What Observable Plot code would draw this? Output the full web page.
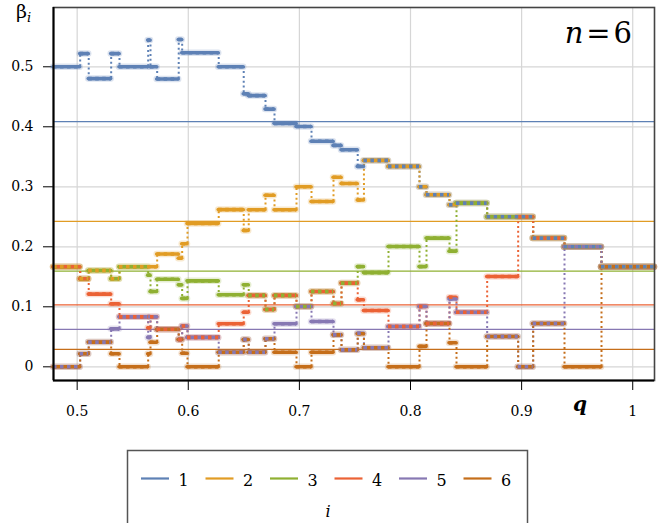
<!DOCTYPE html>
<html><head><meta charset="utf-8">
<script src="https://cdn.jsdelivr.net/npm/d3@7"></script>
<script src="https://cdn.jsdelivr.net/npm/@observablehq/plot@0.6"></script>
<style>
html,body{margin:0;padding:0;background:#fff;}
#wrap{position:relative;width:672px;height:523px;overflow:hidden;background:#fff;}
#wrap svg{position:absolute;left:0;top:0;}
</style></head><body><div id="wrap"></div>
<script>
const seriesNames = ["1","2","3","4","5","6"];
const seriesColors = ["#5E81B5","#E19C24","#8FB032","#EB6235","#8778B3","#C56E1A"];
// interval edges in q
const qBreaks = [0.4787, 0.5027, 0.5104, 0.5306, 0.5381, 0.5639, 0.5660, 0.5720, 0.5914, 0.5945, 0.5993, 0.6274, 0.6499, 0.6544, 0.6695, 0.6776, 0.6974, 0.7109, 0.7307, 0.7379, 0.7525, 0.7581, 0.7802, 0.8081, 0.8144, 0.8351, 0.8414, 0.8690, 0.8969, 0.9104, 0.9386, 0.9719, 1.0196];
const beta1 = [0.5, 0.522, 0.4803, 0.522, 0.5, 0.5445, 0.5, 0.4797, 0.5455, 0.5233, 0.5233, 0.5, 0.455, 0.452, 0.4295, 0.4057, 0.4006, 0.376, 0.369, 0.3617, 0.334, 0.344, 0.334, 0.30, 0.2867, 0.270, 0.2728, 0.25, 0.25, 0.2145, 0.2, 0.1667];
const beta2 = [0.1667, 0.1467, 0.1606, 0.1467, 0.1667, 0.1667, 0.1667, 0.188, 0.181, 0.205, 0.239, 0.262, 0.2272, 0.2617, 0.286, 0.2617, 0.30, 0.2755, 0.316, 0.3055, 0.278, 0.344, 0.334, 0.30, 0.2867, 0.270, 0.2728, 0.25, 0.25, 0.2145, 0.2, 0.1667];
const beta3 = [0.1667, 0.1467, 0.1606, 0.1467, 0.1667, 0.1528, 0.1255, 0.146, 0.1367, 0.114, 0.1433, 0.12, 0.1367, 0.119, 0.0955, 0.119, 0.1005, 0.1255, 0.1055, 0.1395, 0.167, 0.157, 0.2005, 0.167, 0.2145, 0.1928, 0.2728, 0.25, 0.25, 0.2145, 0.2, 0.1667];
const beta4 = [0.1667, 0.1467, 0.1212, 0.105, 0.0833, 0.065, 0.0833, 0.0627, 0.0455, 0.068, 0.049, 0.0717, 0.091, 0.119, 0.0955, 0.119, 0.1005, 0.1255, 0.1055, 0.1395, 0.1117, 0.0938, 0.0672, 0.1005, 0.0722, 0.116, 0.091, 0.1505, 0.25, 0.2145, 0.2, 0.1667];
const beta5 = [0, 0.0217, 0.0412, 0.0633, 0.0833, 0.049, 0.0833, 0.0627, 0.0455, 0.068, 0.049, 0.0244, 0.0455, 0.0244, 0.0467, 0.0717, 0.1005, 0.0755, 0.0533, 0.0283, 0.056, 0.0317, 0.0672, 0.1005, 0.0722, 0.113, 0.091, 0.0505, 0, 0.0722, 0.2, 0.1667];
const beta6 = [0, 0.0217, 0.0412, 0.0217, 0, 0.0217, 0.041, 0.0627, 0.0455, 0.0227, 0, 0.0244, 0.0455, 0.0244, 0.0467, 0.0244, 0, 0.0244, 0.0533, 0.0283, 0.055, 0.0317, 0, 0.034, 0.0722, 0.04, 0, 0.0505, 0, 0.0722, 0, 0.1667];
const weights = [0.4085, 0.2423, 0.1595, 0.1033, 0.0623, 0.029];
const xTicks = [0.5, 0.6, 0.7, 0.8, 0.9, 1];
const yTicks = [0, 0.1, 0.2, 0.3, 0.4, 0.5];

const betas = [beta1, beta2, beta3, beta4, beta5, beta6];
const hseg = [], vseg = [];
betas.forEach((vals, k) => {
  let start = 0;
  for (let i = 1; i <= vals.length; i++) {
    if (i === vals.length || vals[i] !== vals[i - 1]) {
      hseg.push({s: seriesNames[k], x1: qBreaks[start], x2: qBreaks[i], y: vals[i - 1]});
      if (i < vals.length) vseg.push({s: seriesNames[k], x: qBreaks[i], y1: vals[i - 1], y2: vals[i]});
      start = i;
    }
  }
});
const wData = weights.map((w, i) => ({y: w, s: seriesNames[i]}));
const xDomain = [0.4787, 1.0196], yDomain = [-0.0228, 0.5988];
const serif = '"DejaVu Serif", serif';

const chart = Plot.plot({
  width: 672, height: 523,
  marginLeft: 53, marginRight: 18, marginTop: 7, marginBottom: 143,
  style: {fontFamily: serif, fontSize: "14px", background: "transparent", color: "#000"},
  x: {domain: xDomain, ticks: xTicks, tickSize: 10, tickPadding: 16, tickFormat: d => String(d), label: null},
  y: {domain: yDomain, ticks: yTicks, tickSize: 10, tickPadding: 10, tickFormat: d => String(d), label: null},
  color: {domain: seriesNames, range: seriesColors},
  marks: [
    Plot.ruleX(xTicks, {stroke: "#d6d6d6", strokeWidth: 1.2}),
    Plot.ruleY(yTicks, {stroke: "#d6d6d6", strokeWidth: 1.2}),
    Plot.ruleY(wData, {y: "y", stroke: "s", strokeWidth: 1.3}),
    Plot.ruleX(vseg, {x: "x", y1: "y1", y2: "y2", stroke: "s", strokeWidth: 2, strokeDasharray: "2,2.8"}),
    Plot.ruleY(hseg, {y: "y", x1: "x1", x2: "x2", stroke: "s", strokeWidth: 6.5, strokeOpacity: 0.22, strokeLinecap: "round"}),
    Plot.ruleY(hseg, {y: "y", x1: "x1", x2: "x2", stroke: "s", strokeWidth: 3.6, strokeLinecap: "round"}),
    Plot.ruleY(hseg.slice().reverse(), {y: "y", x1: "x1", x2: "x2", stroke: "s", strokeWidth: 3.6, strokeDasharray: "3.5,3.5"}),
    Plot.frame({stroke: "#444", strokeWidth: 1.6}),
    Plot.ruleX([xDomain[0]], {stroke: "#000", strokeWidth: 2}),
    Plot.ruleY([yDomain[0]], {stroke: "#000", strokeWidth: 2})
  ]
});
document.getElementById("wrap").appendChild(chart);

const ov = d3.select("#wrap").append("svg").attr("width", 672).attr("height", 523)
  .style("font-family", serif);
const bt = ov.append("text").attr("x", 16).attr("y", 18).attr("font-size", 19).text("β");
bt.append("tspan").attr("font-style", "italic").attr("font-size", 13).attr("dy", 4).text("i");
const nt = ov.append("text").attr("x", 632).attr("y", 43).attr("text-anchor", "end").attr("font-size", 29);
nt.append("tspan").attr("font-style", "italic").text("n");
nt.append("tspan").text("\u200A=\u200A");
nt.append("tspan").text("6");
ov.append("text").attr("x", 573).attr("y", 411).attr("font-size", 20).attr("font-weight", "bold").attr("font-style", "italic").text("q");
ov.append("rect").attr("x", 127.5).attr("y", 450.5).attr("width", 400).attr("height", 100)
  .attr("fill", "none").attr("stroke", "#555").attr("stroke-width", 1.5);
seriesNames.forEach((s, i) => {
  const x0 = 141 + i * 64.5;
  ov.append("line").attr("x1", x0).attr("x2", x0 + 28).attr("y1", 478.5).attr("y2", 478.5)
    .attr("stroke", seriesColors[i]).attr("stroke-width", 2.2);
  ov.append("text").attr("x", x0 + 42.5).attr("y", 486).attr("text-anchor", "middle").attr("font-size", 16).text(s);
});
ov.append("text").attr("x", 328).attr("y", 517).attr("text-anchor", "middle").attr("font-style", "italic").attr("font-size", 16).text("i");
</script>
</body></html>
